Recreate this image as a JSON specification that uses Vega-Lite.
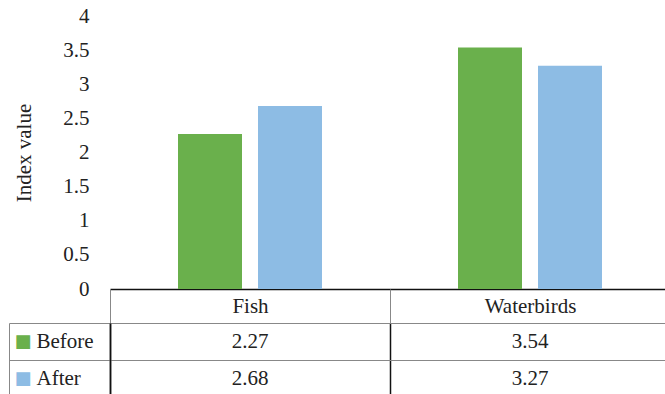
{
  "$schema": "https://vega.github.io/schema/vega-lite/v6.json",
  "padding": {"left": 8, "top": 5, "right": 0, "bottom": 0},
  "background": "white",
  "config": {"font": "'Liberation Serif', serif", "view": {"stroke": null}},
  "datasets": {
    "vals": [
      {"category": "Fish", "period": "Before", "value": 2.27},
      {"category": "Fish", "period": "After", "value": 2.68},
      {"category": "Waterbirds", "period": "Before", "value": 3.54},
      {"category": "Waterbirds", "period": "After", "value": 3.27}
    ]
  },
  "data": {"name": "vals"},
  "spacing": -11,
  "vconcat": [
    {
      "width": 560,
      "height": 273,
      "mark": {"type": "bar"},
      "encoding": {
        "x": {
          "field": "category", "type": "nominal", "sort": ["Fish", "Waterbirds"],
          "scale": {"paddingInner": 0, "paddingOuter": 0},
          "axis": {"title": null, "labels": false, "ticks": false, "domain": true, "domainColor": "#111", "domainWidth": 1.5, "grid": false}
        },
        "xOffset": {
          "field": "period", "type": "nominal", "sort": ["Before", "After"],
          "scale": {"paddingInner": 0.2, "paddingOuter": 0.85}
        },
        "y": {
          "field": "value", "type": "quantitative",
          "scale": {"domain": [0, 4]},
          "axis": {
            "title": "Index value", "values": [0, 0.5, 1, 1.5, 2, 2.5, 3, 3.5, 4], "format": "~g",
            "grid": false, "domain": false, "ticks": false, "labelPadding": 21,
            "labelFontSize": 21, "labelColor": "#222", "titleFontSize": 21,
            "titleFontWeight": "normal", "titleColor": "#222", "titlePadding": 28
          }
        },
        "color": {
          "field": "period", "type": "nominal",
          "scale": {"domain": ["Before", "After"], "range": ["#6AB04C", "#8DBCE4"]},
          "legend": null
        }
      }
    },
    {
      "width": 560,
      "height": 74,
      "layer": [
        {
          "mark": {"type": "text", "fontSize": 21, "color": "#222", "baseline": "middle"},
          "encoding": {
            "x": {
              "field": "category", "type": "nominal", "sort": ["Fish", "Waterbirds"],
              "scale": {"paddingInner": 0, "paddingOuter": 0},
              "axis": {
                "orient": "top", "title": null, "labelAngle": 0, "ticks": true, "tickBand": "extent",
                "tickSize": 34, "tickColor": "#888", "labelPadding": -17, "labelBaseline": "middle",
                "labelFontSize": 21, "labelColor": "#222", "domain": true, "domainColor": "#888",
                "grid": true, "gridColor": "#111", "gridWidth": 1.5, "gridOpacity": 1
              }
            },
            "y": {
              "field": "period", "type": "nominal", "sort": ["Before", "After"],
              "scale": {"paddingInner": 0, "paddingOuter": 0},
              "axis": {
                "orient": "left", "title": null, "tickBand": "extent", "tickSize": 101, "tickColor": "#888",
                "grid": true, "gridColor": "#888", "gridOpacity": 1, "domain": true, "domainColor": "#111", "domainWidth": 1.5,
                "labelAlign": "left", "labelPadding": -27, "labelBaseline": "middle",
                "labelFontSize": 21, "labelColor": "#222"
              }
            },
            "text": {"field": "value", "type": "quantitative", "format": ".2f"}
          }
        },
        {
          "mark": {"type": "text", "fontSize": 21},
          "encoding": {
            "x": {"field": "category", "type": "nominal", "sort": ["Fish", "Waterbirds"]},
            "y": {
              "field": "period", "type": "nominal", "sort": ["Before", "After"],
              "axis": {
                "orient": "left", "offset": 101, "title": null, "ticks": false, "grid": false,
                "domain": true, "domainColor": "#888", "labelExpr": "'■'",
                "labelColor": {"condition": {"test": "datum.value === 'Before'", "value": "#6AB04C"}, "value": "#8DBCE4"},
                "labelAlign": "left", "labelPadding": -5, "labelBaseline": "middle", "labelFontSize": 18, "labelFont": "DejaVu Sans"
              }
            },
            "text": {"value": ""}
          }
        }
      ],
      "resolve": {"axis": {"y": "independent"}}
    }
  ]
}
